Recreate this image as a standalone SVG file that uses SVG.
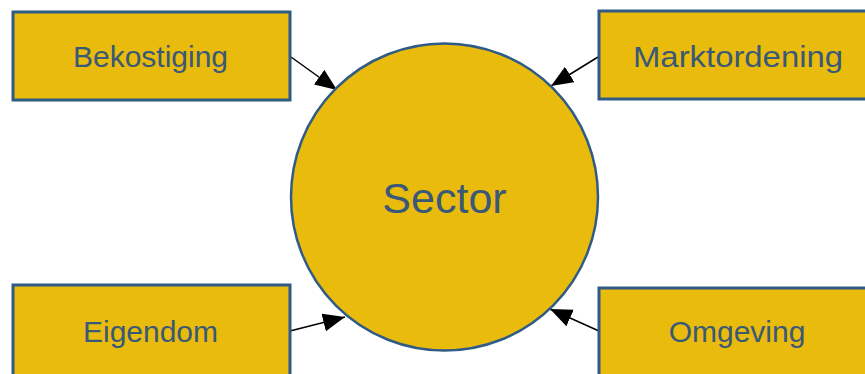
<svg xmlns="http://www.w3.org/2000/svg" width="865" height="374" viewBox="0 0 865 374">
<style>
.box{fill:#E9BB0C;stroke:#2F5B86;stroke-width:3}
.circ{fill:#E9BB0C;stroke:#2F5B86;stroke-width:2.5}
.lbl{font-family:"Liberation Sans",Arial,sans-serif;font-size:30px;fill:#3A5877;text-anchor:middle}
.big{font-family:"Liberation Sans",Arial,sans-serif;font-size:43px;fill:#3A5877;text-anchor:middle}
.con{stroke:#000;stroke-width:1.5;fill:none;marker-end:url(#ah)}
</style>
<defs>
<marker id="ah" markerUnits="userSpaceOnUse" markerWidth="24" markerHeight="20" refX="22" refY="9" orient="auto">
<path d="M0,0 L22,9 L0,18 z" fill="#000"/>
</marker>
</defs>
<rect width="865" height="374" fill="#fff"/>
<g id="connectors">
<line class="con" x1="291" y1="57" x2="337" y2="90"/>
<line class="con" x1="598" y1="57" x2="551" y2="86"/>
<line class="con" x1="290" y1="331" x2="345" y2="317"/>
<line class="con" x1="599" y1="331" x2="550" y2="309"/>
</g>
<g id="sector">
<circle class="circ" cx="444.5" cy="197" r="153.5"/>
<text class="big" x="444.5" y="213">Sector</text>
</g>
<g id="bekostiging">
<rect class="box" x="13" y="12" width="277" height="88"/>
<text class="lbl" x="150.5" y="66.5">Bekostiging</text>
</g>
<g id="marktordening">
<rect class="box" x="599" y="11" width="280" height="88"/>
<text class="lbl" x="738" y="67" textLength="210" lengthAdjust="spacingAndGlyphs">Marktordening</text>
</g>
<g id="eigendom">
<rect class="box" x="13" y="285" width="277" height="100"/>
<text class="lbl" x="150.5" y="342">Eigendom</text>
</g>
<g id="omgeving">
<rect class="box" x="599" y="288" width="280" height="100"/>
<text class="lbl" x="737" y="342">Omgeving</text>
</g>
</svg>
